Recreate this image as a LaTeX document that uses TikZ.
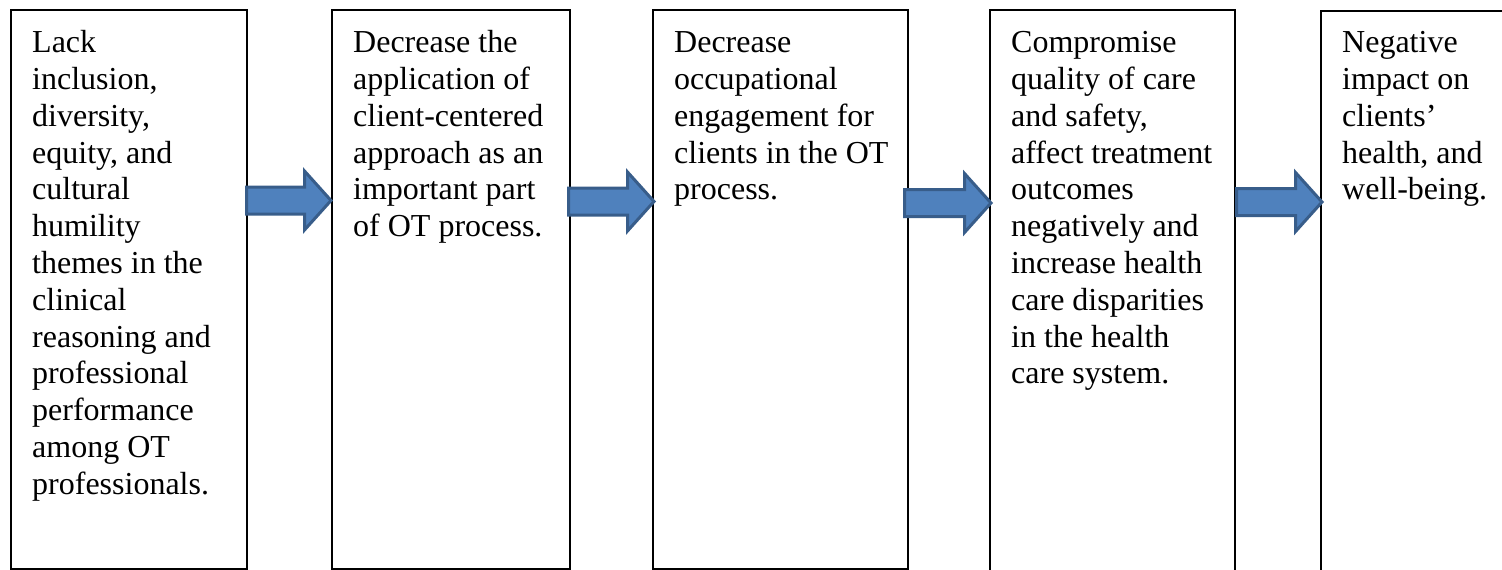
\documentclass[tikz,border=0pt]{standalone}
\usepackage{fontspec}
\setmainfont{Liberation Serif}
\usetikzlibrary{calc}
\definecolor{arrowfill}{HTML}{4F81BD}
\definecolor{arrowline}{HTML}{385D8A}
\tikzset{
  stagebox/.style={draw=black, line width=1.8pt, fill=white, inner sep=0pt,
    outer sep=0pt, anchor=north west},
  stagetext/.style={anchor=north west, inner sep=0pt, align=left,
    font=\fontsize{32}{36.8}\selectfont},
  flowshape/.style={fill=arrowfill, draw=arrowline, line width=3pt,
    line join=miter},
}
% block arrow from the tail coordinate #1 to the tip coordinate #2
\newcommand\flowarrow[2]{%
  \draw[flowshape] ($(#1 |- #2)+(0,-13.5)$) -- ($(#2)+(-26.5,-13.5)$)
    -- ($(#2)+(-26.5,-29.5)$) -- (#2) -- ($(#2)+(-26.5,29.5)$)
    -- ($(#2)+(-26.5,13.5)$) -- ($(#1 |- #2)+(0,13.5)$) -- cycle;}
\begin{document}
\begin{tikzpicture}[x=1pt, y=-1pt]
\useasboundingbox (0,0) rectangle (1502,570);
\clip (0,0) rectangle (1502,570);

% stage boxes
\node[stagebox, minimum width=236pt, minimum height=559pt] (b1) at (11,10) {};
\node[stagebox, minimum width=238pt, minimum height=559pt] (b2) at (332,10) {};
\node[stagebox, minimum width=255pt, minimum height=559pt] (b3) at (653,10) {};
\node[stagebox, minimum width=245pt, minimum height=590pt] (b4) at (990,10) {};
\node[stagebox, minimum width=239pt, minimum height=590pt] (b5) at (1321,11) {};

% stage texts
\node[stagetext] (t1) at ($(b1.north west)+(21,16.8)$) {\strut Lack\\inclusion,\\diversity,\\equity, and\\cultural\\humility\\themes in the\\clinical\\reasoning and\\professional\\performance\\among OT\\professionals.};
\node[stagetext] (t2) at ($(b2.north west)+(21,16.8)$) {\strut Decrease the\\application of\\client-centered\\approach as an\\important part\\of OT process.};
\node[stagetext] (t3) at ($(b3.north west)+(21,16.8)$) {\strut Decrease\\occupational\\engagement for\\clients in the OT\\process.};
\node[stagetext] (t4) at ($(b4.north west)+(21,16.8)$) {\strut Compromise\\quality of care\\and safety,\\affect treatment\\outcomes\\negatively and\\increase health\\care disparities\\in the health\\care system.};
\node[stagetext] (t5) at ($(b5.north west)+(21,15.8)$) {\strut Negative\\impact on\\clients’\\health, and\\well-being.};

% arrow ends
\coordinate (s1) at ($(b1.north east)+(-0.5,0)$);
\coordinate (e1) at ($(b2.north west)+(-1,190.5)$);
\coordinate (s2) at ($(b2.north east)+(-1.5,0)$);
\coordinate (e2) at ($(b3.north west)+(1,191.5)$);
\coordinate (s3) at ($(b3.north east)+(-3.5,0)$);
\coordinate (e3) at ($(b4.north west)+(1,193)$);
\coordinate (s4) at ($(b4.north east)+(1.5,0)$);
\coordinate (e4) at ($(b5.north west)+(1,191)$);

% arrows between stages
\flowarrow{s1}{e1}
\flowarrow{s2}{e2}
\flowarrow{s3}{e3}
\flowarrow{s4}{e4}
\end{tikzpicture}
\end{document}
